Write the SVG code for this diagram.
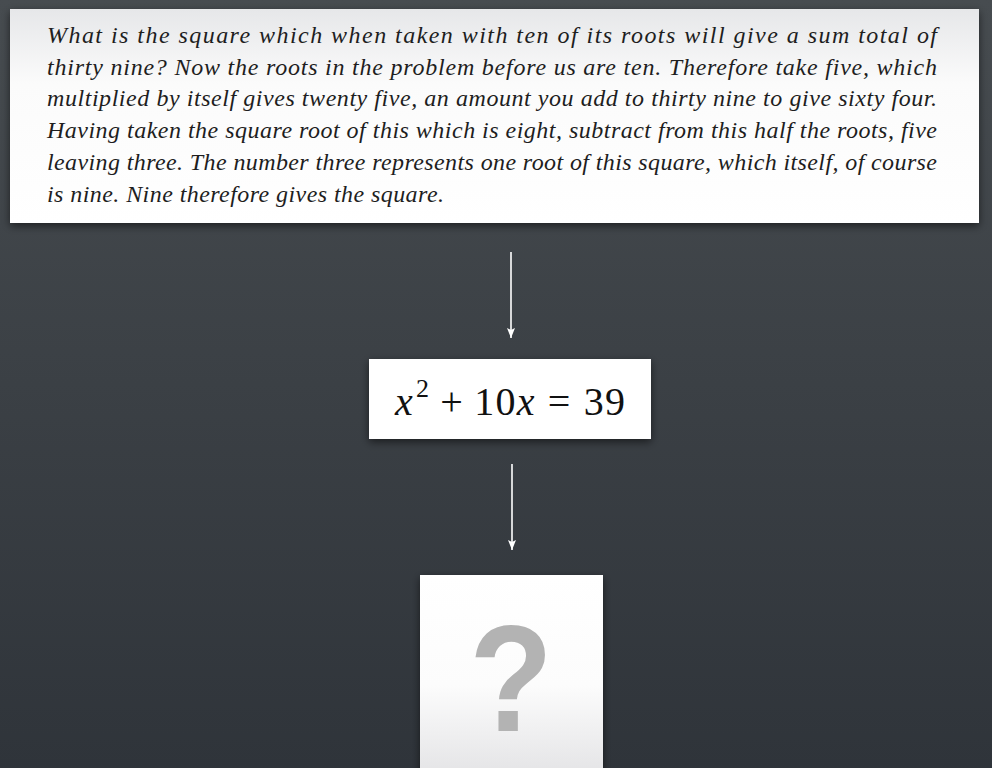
<svg xmlns="http://www.w3.org/2000/svg" width="992" height="768" viewBox="0 0 992 768">
<defs>
<linearGradient id="bg" x1="0" y1="0" x2="0" y2="1">
<stop offset="0" stop-color="#474c50"/>
<stop offset="1" stop-color="#2f343a"/>
</linearGradient>
<linearGradient id="topfill" x1="0" y1="0" x2="0" y2="1">
<stop offset="0" stop-color="#e6e7e9"/>
<stop offset="0.35" stop-color="#fbfbfb"/>
<stop offset="1" stop-color="#ffffff"/>
</linearGradient>
<linearGradient id="qfill" x1="0" y1="0" x2="0" y2="1">
<stop offset="0" stop-color="#ffffff"/>
<stop offset="0.55" stop-color="#fcfcfc"/>
<stop offset="1" stop-color="#e4e4e6"/>
</linearGradient>
<filter id="sh" x="-10%" y="-10%" width="120%" height="130%">
<feDropShadow dx="0" dy="3" stdDeviation="4" flood-color="#000" flood-opacity="0.55"/>
</filter>
<marker id="ah" markerWidth="12" markerHeight="12" refX="10" refY="5" orient="auto" markerUnits="userSpaceOnUse" viewBox="0 0 12 10">
<path d="M0,1 L10,5 L0,9 L2,5 Z" fill="#ffffff"/>
</marker>
<style>
.para{font-family:"Liberation Serif","Times New Roman",serif;font-style:italic;font-size:24px;fill:#1e1e1e}
.eq{font-family:"Liberation Serif","Times New Roman",serif;font-size:40px;fill:#111}
.conn{stroke:#ffffff;stroke-width:1.6;fill:none}
</style>
</defs>
<rect width="992" height="768" fill="url(#bg)"/>
<g id="problem">
<rect x="10" y="9" width="969" height="214" fill="url(#topfill)" filter="url(#sh)"/>
<text class="para" x="47" y="43" textLength="890" lengthAdjust="spacing">What is the square which when taken with ten of its roots will give a sum total of</text>
<text class="para" x="47" y="75" textLength="890" lengthAdjust="spacing">thirty nine? Now the roots in the problem before us are ten. Therefore take five, which</text>
<text class="para" x="47" y="106" textLength="890" lengthAdjust="spacing">multiplied by itself gives twenty five, an amount you add to thirty nine to give sixty four.</text>
<text class="para" x="47" y="138" textLength="890" lengthAdjust="spacing">Having taken the square root of this which is eight, subtract from this half the roots, five</text>
<text class="para" x="47" y="170" textLength="890" lengthAdjust="spacing">leaving three. The number three represents one root of this square, which itself, of course</text>
<text class="para" x="47" y="202" textLength="397" lengthAdjust="spacing">is nine. Nine therefore gives the square.</text>
</g>
<g id="connectors">
<line class="conn" x1="511" y1="252" x2="511" y2="338" marker-end="url(#ah)"/>
<line class="conn" x1="512" y1="464" x2="512" y2="550" marker-end="url(#ah)"/>
</g>
<g id="equation">
<rect x="369" y="359" width="282" height="80" fill="#ffffff" filter="url(#sh)"/>
<text class="eq" x="395" y="415" textLength="230" lengthAdjust="spacing"><tspan font-style="italic">x</tspan><tspan font-size="26" dy="-18" dx="2">2</tspan><tspan dy="18" dx="10">+</tspan><tspan dx="10">10</tspan><tspan font-style="italic">x</tspan><tspan dx="12">=</tspan><tspan dx="12">39</tspan></text>
</g>
<g id="unknown">
<rect x="420" y="575" width="183" height="200" fill="url(#qfill)" filter="url(#sh)"/>
<text x="0" y="731" transform="translate(511 0) scale(0.9 1)" text-anchor="middle" font-family="Liberation Sans, Arial, sans-serif" font-weight="bold" font-size="152" fill="#b3b3b3">?</text>
</g>
</svg>
